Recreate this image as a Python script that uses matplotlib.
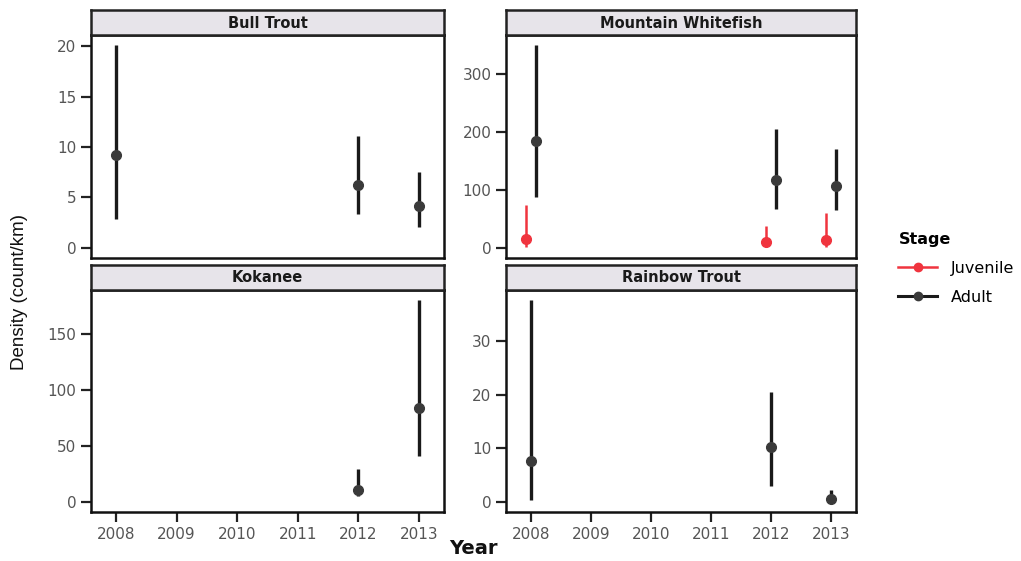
import matplotlib
matplotlib.use("Agg")
import matplotlib.pyplot as plt
from matplotlib.lines import Line2D
import numpy as np

# ---------------------------------------------------------------------------
# Data: density estimates (count/km) with lower / upper bounds
# ---------------------------------------------------------------------------
SPECIES = ["Bull Trout", "Mountain Whitefish", "Kokanee", "Rainbow Trout"]

bt_year  = [2008, 2012, 2013]
bt_mean  = [9.2, 6.2, 4.2]
bt_lo    = [2.9, 3.4, 2.1]
bt_hi    = [20.1, 11.1, 7.5]

mw_adult_year = [2008, 2012, 2013]
mw_adult_mean = [185, 118, 106]
mw_adult_lo   = [87, 67, 65]
mw_adult_hi   = [350, 206, 170]
mw_juv_year   = [2008, 2012, 2013]
mw_juv_mean   = [15, 10, 14]
mw_juv_lo     = [2, 4, 2]
mw_juv_hi     = [74, 38, 60]

ko_year = [2012, 2013]
ko_mean = [11, 84]
ko_lo   = [5.3, 40.7]
ko_hi   = [29.5, 180]

rb_year = [2008, 2012, 2013]
rb_mean = [7.7, 10.3, 0.6]
rb_lo   = [0.3, 2.9, 0.1]
rb_hi   = [37.6, 20.4, 2.3]

YTICKS = {
    "Bull Trout": [0, 5, 10, 15, 20],
    "Mountain Whitefish": [0, 100, 200, 300],
    "Kokanee": [0, 50, 100, 150],
    "Rainbow Trout": [0, 10, 20, 30],
}
YEARS = [2008, 2009, 2010, 2011, 2012, 2013]

CLR_ADULT = "#1a1a1a"
CLR_ADULT_PT = "#3a3a3a"
CLR_JUV = "#f0343e"
STRIP_BG = "#e7e4ea"
plt.rcParams["font.family"] = ["DejaVu Sans"]

W, H = 1021, 561
fig = plt.figure(figsize=(W / 100, H / 100), dpi=100)


def px_axes(x0, y0, x1, y1):
    return fig.add_axes([x0 / W, 1 - y1 / H, (x1 - x0) / W, (y1 - y0) / H])


# panel boxes in pixels (x0, strip_top, strip_bottom/plot_top, plot_bottom, x1)
BOXES = {
    "Bull Trout":         (91, 10, 35, 258, 444),
    "Mountain Whitefish": (506, 10, 35, 258, 856),
    "Kokanee":            (91, 265, 290, 512, 444),
    "Rainbow Trout":      (506, 265, 290, 512, 856),
}

DODGE = 0.09


def pointrange(ax, x, m, lo, hi, col, ptcol, lw):
    x = np.asarray(x, dtype=float)
    ax.vlines(x, lo, hi, color=col, linewidth=lw, zorder=3)
    ax.plot(x, m, "o", color=ptcol, markersize=7, zorder=4, linestyle="none")


axes = {}
for name in SPECIES:
    x0, st, pt, pb, x1 = BOXES[name]
    ax = px_axes(x0, pt, x1, pb)
    axes[name] = ax
    # strip
    sax = px_axes(x0, st, x1, pt)
    sax.set_facecolor(STRIP_BG)
    sax.set_xticks([])
    sax.set_yticks([])
    for sp in sax.spines.values():
        sp.set_linewidth(1.8)
        sp.set_color("#222222")
    sax.text(0.5, 0.48, name, ha="center", va="center", fontsize=10.5,
             fontweight="bold", color="#1a1a1a", transform=sax.transAxes)

    for sp in ax.spines.values():
        sp.set_linewidth(1.8)
        sp.set_color("#111111")
    ax.set_xlim(2007.585, 2013.415)
    ax.set_xticks(YEARS)
    ax.set_yticks(YTICKS[name])
    ax.tick_params(axis="both", direction="out", length=7.5, width=1.6,
                   color="#222222", labelsize=11, labelcolor="#555555", pad=3)
    if name in ("Bull Trout", "Mountain Whitefish"):
        ax.tick_params(axis="x", length=0, labelbottom=False)

pointrange(axes["Bull Trout"], bt_year, bt_mean, bt_lo, bt_hi, CLR_ADULT, CLR_ADULT_PT, 2.4)
axes["Bull Trout"].set_ylim(-1.005, 21.105)

ax = axes["Mountain Whitefish"]
pointrange(ax, np.array(mw_juv_year) - DODGE, mw_juv_mean, mw_juv_lo, mw_juv_hi, CLR_JUV, CLR_JUV, 1.8)
pointrange(ax, np.array(mw_adult_year) + DODGE, mw_adult_mean, mw_adult_lo, mw_adult_hi, CLR_ADULT, CLR_ADULT_PT, 2.4)
ax.set_ylim(-17.5, 367.5)

pointrange(axes["Kokanee"], ko_year, ko_mean, ko_lo, ko_hi, CLR_ADULT, CLR_ADULT_PT, 2.4)
axes["Kokanee"].set_ylim(-9, 189)

pointrange(axes["Rainbow Trout"], rb_year, rb_mean, rb_lo, rb_hi, CLR_ADULT, CLR_ADULT_PT, 2.4)
axes["Rainbow Trout"].set_ylim(-1.88, 39.48)

# axis titles
fig.text(20 / W, 1 - 292 / H, "Density (count/km)", rotation=90, ha="center",
         va="center", fontsize=13.5, color="#111111",
         family=["Liberation Sans", "DejaVu Sans"])
fig.text(473 / W, 1 - 548 / H, "Year", ha="center", va="center", fontsize=14,
         fontweight="bold", color="#111111")

# legend
handles = [
    Line2D([0], [0], color=CLR_JUV, lw=1.8, marker="o", markersize=6),
    Line2D([0], [0], color=CLR_ADULT, lw=2.2, marker="o", markersize=6,
           markerfacecolor=CLR_ADULT_PT, markeredgecolor=CLR_ADULT_PT),
]
leg = fig.legend(handles, ["Juvenile", "Adult"], title="Stage",
                 loc="upper left", bbox_to_anchor=(892 / W, 1 - 226 / H),
                 frameon=False, fontsize=11.5, handlelength=2.4,
                 labelspacing=0.85, borderaxespad=0, handletextpad=0.9)
leg.get_title().set_fontweight("bold")
leg.get_title().set_fontsize(11.5)
leg._legend_box.align = "left"

fig.savefig("out.png", dpi=100)
